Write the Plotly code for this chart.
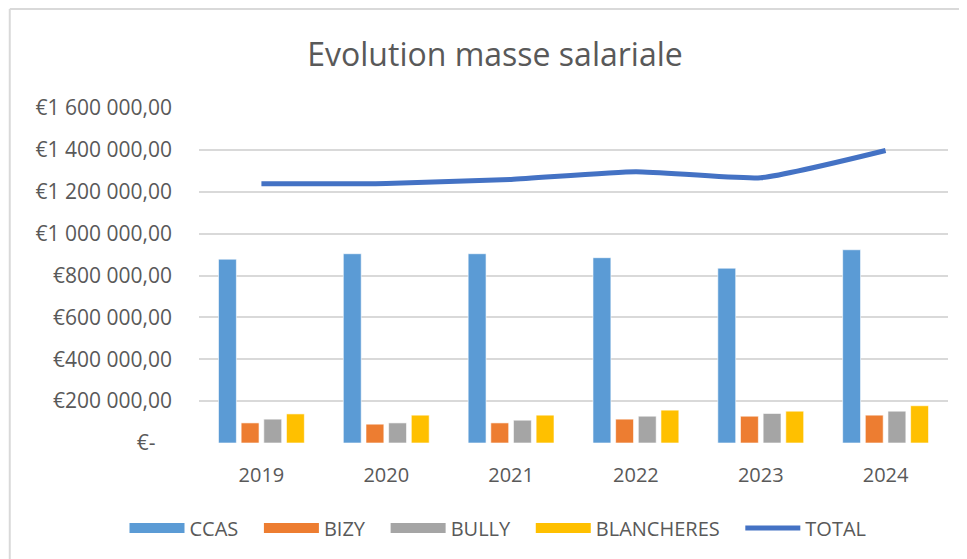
import plotly.graph_objects as go

years = ["2019", "2020", "2021", "2022", "2023", "2024"]
ccas = [878000, 904000, 904000, 885000, 835000, 923000]
bizy = [96000, 90000, 96000, 114000, 128000, 133000]
bully = [114000, 96000, 109000, 128000, 141000, 152000]
blancheres = [139000, 133000, 133000, 157000, 152000, 178000]
total = [1238000, 1240000, 1259000, 1296000, 1267000, 1397000]

tick_vals = [0, 200000, 400000, 600000, 800000, 1000000, 1200000, 1400000, 1600000]
tick_text = ["€-\u00a0\u00a0\u00a0", "€200 000,00", "€400 000,00", "€600 000,00", "€800 000,00",
             "€1 000 000,00", "€1 200 000,00", "€1 400 000,00", "€1 600 000,00"]

FONT = "Open Sans"
GREY = "#595959"
W, H = 959, 551
L, R, T, B = 190.5, 18.5, 100, 116
PW, PH = W - L - R, H - T - B
PAD = "\u00a0\u00a0\u00a0"

fig = go.Figure()
bar_series = [("CCAS", ccas, "#5B9BD5"), ("BIZY", bizy, "#ED7D31"),
              ("BULLY", bully, "#A5A5A5"), ("BLANCHERES", blancheres, "#FFC000")]
for name, vals, col in bar_series:
    fig.add_trace(go.Bar(x=years, y=vals, name=name, legendgroup=name, showlegend=False,
                         marker=dict(color=col, line=dict(color="rgba(255,255,255,0.6)", width=1))))
    fig.add_trace(go.Scatter(x=[None], y=[None], name=name + PAD, legendgroup=name, mode="lines",
                             line=dict(color=col, width=12), showlegend=True))

fig.add_trace(go.Scatter(x=years, y=total, name="TOTAL", mode="lines",
                         line=dict(color="#4472C4", width=5, shape="spline", smoothing=0.5)))

fig.update_layout(
    width=W, height=H,
    margin=dict(l=L, r=R, t=T, b=B, autoexpand=False),
    paper_bgcolor="white", plot_bgcolor="white",
    font=dict(family=FONT, color=GREY),
    barmode="group", bargap=0.274, bargroupgap=0.21,
    title=dict(text="Evolution masse salariale", x=487 / W, xref="container",
               y=1 - 47 / H, yref="container", xanchor="center", yanchor="middle",
               font=dict(family=FONT, size=32, color=GREY)),
    legend=dict(orientation="h", xref="container", yref="container",
                x=490 / W, y=1 - 520 / H, xanchor="center", yanchor="middle",
                font=dict(family=FONT, size=20, color=GREY), traceorder="normal",
                itemwidth=55),
    showlegend=True,
)
fig.update_xaxes(showgrid=False, showline=False, ticks="",
                 tickfont=dict(family=FONT, size=20, color=GREY), ticklabelstandoff=18)
fig.update_yaxes(range=[0, 1600000], tickvals=tick_vals, ticktext=tick_text,
                 showgrid=True, gridcolor="#D9D9D9", gridwidth=1.5, zeroline=False,
                 showline=False, ticks="", ticklabelstandoff=26,
                 tickfont=dict(family=FONT, size=21, color=GREY))

# chart frame (left and top edges)
fx = (1 - L) / PW
fy_top = (H - B - 1) / PH
fig.add_shape(type="line", xref="paper", yref="paper",
              x0=fx, x1=fx, y0=fy_top, y1=-B / PH,
              line=dict(color="#D9D9D9", width=2))
fig.add_shape(type="line", xref="paper", yref="paper",
              x0=fx, x1=(W - L) / PW, y0=fy_top, y1=fy_top,
              line=dict(color="#D9D9D9", width=2))

fig.write_html("out.html")
